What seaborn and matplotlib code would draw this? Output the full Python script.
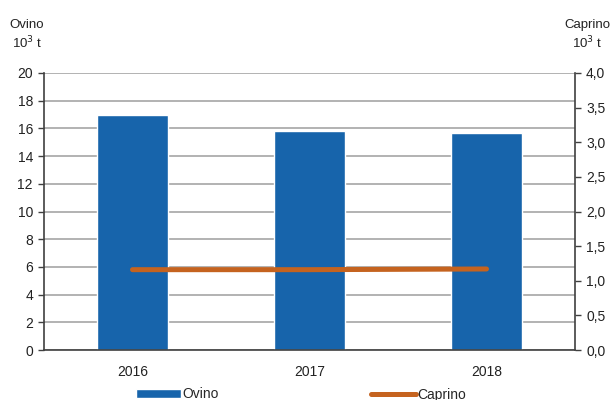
import matplotlib
matplotlib.use("Agg")
import matplotlib.pyplot as plt
import seaborn as sns
import pandas as pd

years = ["2016", "2017", "2018"]
ovino = [17.0, 15.8, 15.7]
caprino = [1.16, 1.16, 1.17]
left_ticks = [0, 2, 4, 6, 8, 10, 12, 14, 16, 18, 20]
right_ticks = [0.0, 0.5, 1.0, 1.5, 2.0, 2.5, 3.0, 3.5, 4.0]

sns.set_theme(style="white")
plt.rcParams["font.family"] = ["Liberation Sans", "DejaVu Sans"]

df = pd.DataFrame({"year": years, "Ovino": ovino, "Caprino": caprino})

fig = plt.figure(figsize=(6.14, 4.0), dpi=100)
ax = fig.add_axes([44 / 614, 1 - 350 / 400, 531 / 614, 277 / 400])

sns.barplot(data=df, x="year", y="Ovino", color="#1764AB", width=0.4,
            saturation=1, ax=ax, zorder=2, label="Ovino")
if ax.get_legend():
    ax.get_legend().remove()
ax.set_xlim(-0.5, 2.5)
ax.set_ylim(0, 20)
ax.set_yticks(left_ticks)
ax.set_yticklabels([str(t) for t in left_ticks])
ax.yaxis.grid(True, color="#A6A6A6", linewidth=1.2, zorder=0)
ax.set_axisbelow(True)
ax.set_xlabel("")
ax.set_ylabel("")
for s in ["top", "right"]:
    ax.spines[s].set_visible(False)
ax.spines["left"].set_color("#404040")
ax.spines["bottom"].set_color("#404040")
ax.spines["left"].set_linewidth(1.2)
ax.spines["bottom"].set_linewidth(1.2)
ax.tick_params(axis="y", left=True, length=4, width=1, color="#404040",
               labelsize=10, labelcolor="#222222", pad=4)
ax.tick_params(axis="x", bottom=False, labelsize=10, labelcolor="#222222", pad=5)

ax2 = ax.twinx()
sns.lineplot(data=df, x="year", y="Caprino", color="#C5631F", linewidth=3.6,
             ax=ax2, label="Caprino", solid_capstyle="round")
ax2.set_ylim(0, 4.0)
ax2.set_yticks(right_ticks)
ax2.set_yticklabels([f"{t:.1f}".replace(".", ",") for t in right_ticks])
ax2.set_ylabel("")
for s in ["top", "left", "bottom"]:
    ax2.spines[s].set_visible(False)
ax2.spines["right"].set_color("#404040")
ax2.spines["right"].set_linewidth(1.2)
ax2.tick_params(axis="y", right=True, length=4, width=1, color="#404040",
                labelsize=10, labelcolor="#222222", pad=4)
ax2.set_xlim(-0.5, 2.5)
if ax2.get_legend():
    ax2.get_legend().remove()

h1, l1 = ax.get_legend_handles_labels()
h2, l2 = ax2.get_legend_handles_labels()
fig.legend(h1 + h2, l1 + l2, loc="lower center", bbox_to_anchor=(0.49, -0.035),
           ncol=2, frameon=False, fontsize=10, columnspacing=11,
           handlelength=3.2, handletextpad=0.1, handleheight=0.6)

fig.text(27 / 614, 1 - 35 / 400, "Ovino\n10$^3$ t", ha="center", va="center",
         fontsize=9.5, color="#222222", linespacing=1.3)
fig.text(587 / 614, 1 - 35 / 400, "Caprino\n10$^3$ t", ha="center", va="center",
         fontsize=9.5, color="#222222", linespacing=1.3)

fig.savefig("out.png", dpi=100)
